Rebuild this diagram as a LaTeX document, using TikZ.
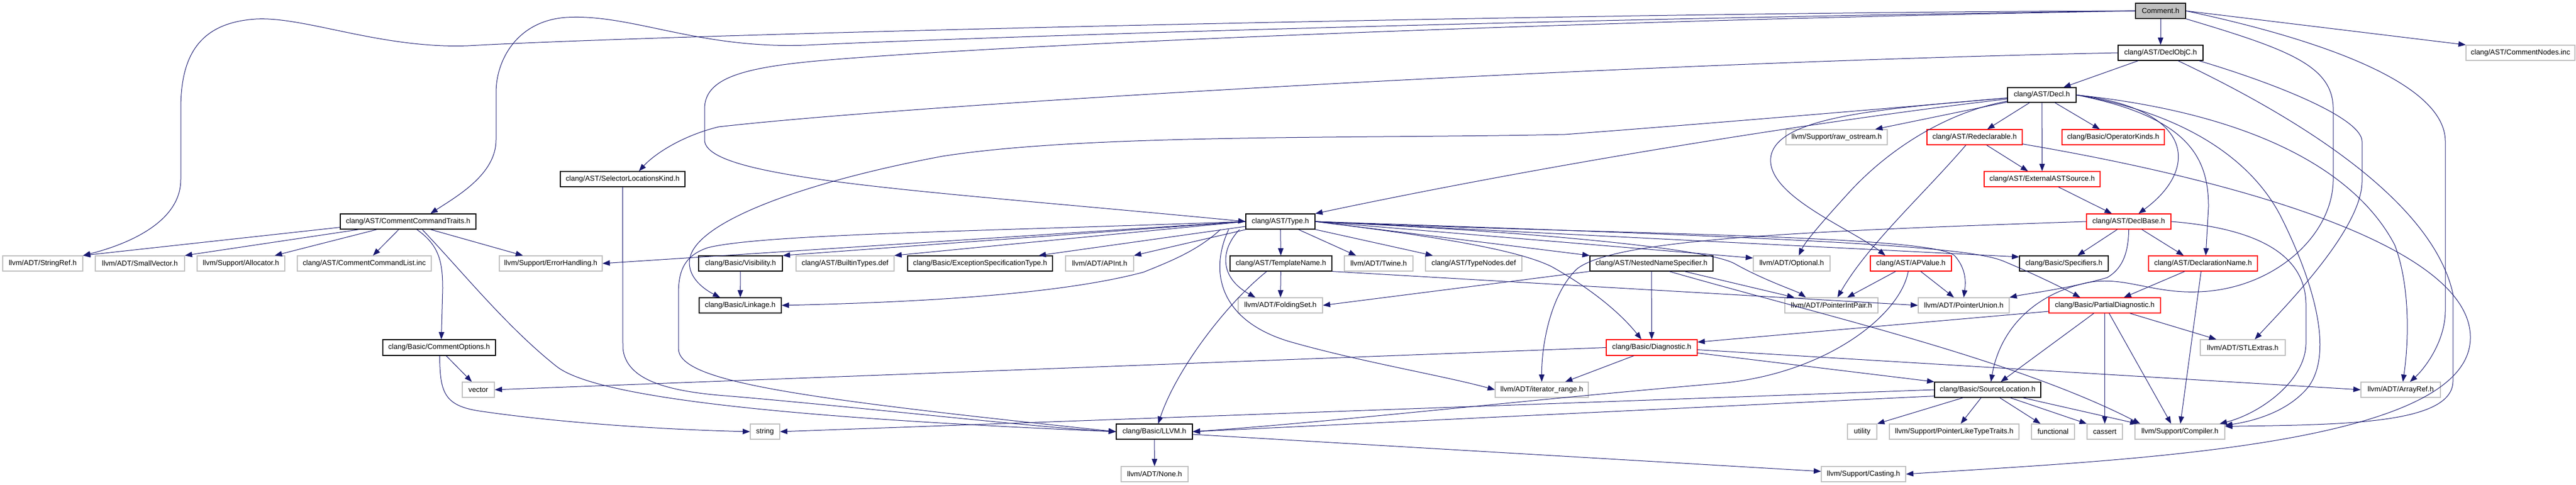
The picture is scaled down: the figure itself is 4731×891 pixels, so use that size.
\documentclass[tikz,border=0pt]{standalone}
\usepackage{fontspec}
\setmainfont{Liberation Sans}
\usetikzlibrary{arrows.meta,calc}
\definecolor{edgec}{HTML}{191970}
\definecolor{grayb}{HTML}{BFBFBF}
\tikzset{
 bx/.style={draw, rectangle, inner sep=0pt, line width=0.9pt, fill=white, font=\fontsize{10}{12}\selectfont, anchor=center},
 blk/.style={bx, draw=black},
 gry/.style={bx, draw=grayb},
 rd/.style={bx, draw=red},
 e/.style={draw=edgec, line width=0.75pt, -{Triangle[length=10pt,width=7.5pt]}},
}
\newcommand{\mynode}[7]{\node[#6, minimum width={(#4-#2)*0.75pt}, minimum height={(#5-#3)*0.75pt}] (#1) at ({(#2+#4)/2},{(#3+#5)/2}) {#7};}
\begin{document}
\begin{tikzpicture}[x=0.75pt,y=-0.75pt]
\useasboundingbox (0,0) rectangle (4731,891);
% nodes
\mynode{cmt}{3922}{6}{4014}{34}{blk,fill=grayb}{Comment.h}
\mynode{dobjc}{3890}{83}{4046}{111}{blk}{clang/AST/DeclObjC.h}
\mynode{cni}{4529}{83}{4729}{111}{gry}{clang/AST/CommentNodes.inc}
\mynode{decl}{3687}{161}{3813}{188}{blk}{clang/AST/Decl.h}
\mynode{raw}{3280}{238}{3466}{266}{gry}{llvm/Support/raw\_ostream.h}
\mynode{redecl}{3539}{238}{3714}{266}{rd}{clang/AST/Redeclarable.h}
\mynode{opk}{3787}{238}{3975}{266}{rd}{clang/Basic/OperatorKinds.h}
\mynode{eas}{3644}{315}{3857}{343}{rd}{clang/AST/ExternalASTSource.h}
\mynode{slk}{1029}{315}{1258}{343}{blk}{clang/AST/SelectorLocationsKind.h}
\mynode{cct}{625}{393}{874}{421}{blk}{clang/AST/CommentCommandTraits.h}
\mynode{type}{2288}{393}{2415}{421}{blk}{clang/AST/Type.h}
\mynode{dbase}{3832}{393}{3987}{421}{rd}{clang/AST/DeclBase.h}
\mynode{sref}{5}{470}{152}{498}{gry}{llvm/ADT/StringRef.h}
\mynode{svec}{175}{470}{339}{498}{gry}{llvm/ADT/SmallVector.h}
\mynode{alloc}{362}{470}{523}{498}{gry}{llvm/Support/Allocator.h}
\mynode{ccl}{546}{470}{792}{498}{gry}{clang/AST/CommentCommandList.inc}
\mynode{errh}{917}{470}{1106}{498}{gry}{llvm/Support/ErrorHandling.h}
\mynode{vis}{1283}{470}{1437}{498}{blk}{clang/Basic/Visibility.h}
\mynode{bti}{1462}{470}{1642}{498}{gry}{clang/AST/BuiltinTypes.def}
\mynode{est}{1667}{470}{1933}{498}{blk}{clang/Basic/ExceptionSpecificationType.h}
\mynode{apint}{1957}{470}{2082}{498}{gry}{llvm/ADT/APInt.h}
\mynode{tname}{2259}{470}{2446}{498}{blk}{clang/AST/TemplateName.h}
\mynode{twine}{2469}{470}{2595}{498}{gry}{llvm/ADT/Twine.h}
\mynode{tnodes}{2618}{470}{2795}{498}{gry}{clang/AST/TypeNodes.def}
\mynode{nns}{2920}{470}{3146}{498}{blk}{clang/AST/NestedNameSpecifier.h}
\mynode{opt}{3220}{470}{3361}{498}{gry}{llvm/ADT/Optional.h}
\mynode{apv}{3435}{470}{3584}{498}{rd}{clang/AST/APValue.h}
\mynode{spec}{3709}{470}{3872}{498}{blk}{clang/Basic/Specifiers.h}
\mynode{dname}{3946}{470}{4146}{498}{rd}{clang/AST/DeclarationName.h}
\mynode{link}{1284}{547}{1435}{575}{blk}{clang/Basic/Linkage.h}
\mynode{fset}{2274}{547}{2429}{575}{gry}{llvm/ADT/FoldingSet.h}
\mynode{pip}{3278}{547}{3449}{575}{gry}{llvm/ADT/PointerIntPair.h}
\mynode{pun}{3523}{547}{3690}{575}{gry}{llvm/ADT/PointerUnion.h}
\mynode{pdiag}{3763}{547}{3968}{575}{rd}{clang/Basic/PartialDiagnostic.h}
\mynode{copt}{703}{624}{910}{653}{blk}{clang/Basic/CommentOptions.h}
\mynode{diag}{2950}{624}{3117}{653}{rd}{clang/Basic/Diagnostic.h}
\mynode{stle}{4041}{624}{4197}{653}{gry}{llvm/ADT/STLExtras.h}
\mynode{vec}{849}{702}{908}{730}{gry}{vector}
\mynode{itr}{2746}{702}{2917}{730}{gry}{llvm/ADT/iterator\_range.h}
\mynode{sloc}{3553}{702}{3748}{730}{blk}{clang/Basic/SourceLocation.h}
\mynode{aref}{4336}{702}{4482}{730}{gry}{llvm/ADT/ArrayRef.h}
\mynode{str}{1378}{779}{1432}{807}{gry}{string}
\mynode{llvmh}{2050}{779}{2190}{807}{blk}{clang/Basic/LLVM.h}
\mynode{util}{3393}{779}{3447}{807}{gry}{utility}
\mynode{pltt}{3470}{779}{3708}{807}{gry}{llvm/Support/PointerLikeTypeTraits.h}
\mynode{func}{3731}{779}{3810}{807}{gry}{functional}
\mynode{cass}{3833}{779}{3898}{807}{gry}{cassert}
\mynode{comp}{3921}{779}{4086}{807}{gry}{llvm/Support/Compiler.h}
\mynode{none}{2059}{857}{2182}{885}{gry}{llvm/ADT/None.h}
\mynode{cast}{3345}{857}{3500}{885}{gry}{llvm/Support/Casting.h}
% ---- edges from Comment.h
\draw[e] (cmt) -- (dobjc);
\draw[e] (cmt.east) -- (cni.north west);
\draw[e] (cmt.south east) .. controls (4200,90) and (4285,120) .. (4285,200) -- (4285,330) .. controls (4285,430) and (4180,530) .. (4040,536) .. controls (3950,540) and (3900,505) .. (3830,520) .. controls (3720,545) and (3670,620) .. ($(sloc.north)+(6,0)$);
\draw[e] (cmt.east) .. controls (4250,70) and (4491,150) .. (4491,260) -- (4491,570) .. controls (4491,630) and (4450,680) .. ($(aref.north)+(17,0)$);
\draw[e] (cmt.west) .. controls (3000,22) and (1300,60) .. (860,84) .. controls (700,90) and (560,30) .. (470,35) .. controls (360,42) and (332,110) .. (332,200) -- (332,330) .. controls (332,410) and (230,450) .. (sref.north east);
\draw[e] (cmt.west) .. controls (2800,35) and (1750,70) .. (1480,83) .. controls (1280,90) and (1160,25) .. (1040,32) .. controls (950,38) and (911,110) .. (911,170) -- (911,257) .. controls (911,320) and (840,360) .. ($(cct.north)+(41,0)$);
\draw[e] (cmt.west) .. controls (2800,40) and (1800,85) .. (1500,112) .. controls (1360,125) and (1294,145) .. (1294,200) -- (1294,257) .. controls (1294,330) and (1700,350) .. (type.west);
% ---- DeclObjC.h
\draw[e] (dobjc) -- (decl);
\draw[e] (dobjc.west) .. controls (3000,115) and (1700,190) .. (1320,233) .. controls (1250,250) and (1200,285) .. ($(slk.north)+(30,0)$);
\draw[e] ($(dobjc.south east)+(-8,0)$) .. controls (4200,160) and (4338,220) .. (4338,260) -- (4338,333) .. controls (4338,420) and (4200,560) .. ($(stle.north)+(22,0)$);
\draw[e] ($(dobjc.south)+(32,0)$) .. controls (4250,230) and (4470,380) .. (4505,540) -- (4505,700) .. controls (4505,780) and (4300,780) .. ($(comp.north east)+(0,5)$);
% ---- Decl.h
\draw[e] (decl) -- (raw);
\draw[e] (decl) -- (redecl);
\draw[e] (decl) -- (eas);
\draw[e] (decl) -- (opk);
\draw[e] (decl) .. controls (3400,215) and (2900,290) .. (type.north east);
\draw[e] (decl) .. controls (3400,205) and (3100,230) .. (2874,247) .. controls (2500,255) and (2000,245) .. (1731,287) .. controls (1500,330) and (1290,400) .. (1268,470) .. controls (1258,505) and (1290,530) .. ($(link.north)+(-37,0)$);
\draw[e] (decl) .. controls (3450,200) and (3260,215) .. (3252,290) .. controls (3245,360) and (3400,420) .. ($(apv.north)+(-47,0)$);
\draw[e] (decl) .. controls (3580,205) and (3470,270) .. (3390,360) .. controls (3340,415) and (3315,445) .. ($(opt.north)+(13,0)$);
\draw[e] (decl.east) .. controls (4030,200) and (4040,310) .. ($(dbase.north)+(18,0)$);
\draw[e] (decl.east) .. controls (4020,215) and (4056,290) .. (4056,380) -- ($(dname.north)+(5,0)$);
\draw[e] (decl.east) .. controls (4150,210) and (4330,320) .. (4398,450) .. controls (4425,520) and (4425,620) .. ($(aref.north)+(4,0)$);
\draw[e] (decl.east) .. controls (4050,215) and (4150,320) .. (4190,400) .. controls (4240,500) and (4290,640) .. (4240,710) .. controls (4200,760) and (4130,775) .. ($(comp.north east)+(0,3)$);
% ---- Type.h
\draw[e] (type.west) -- (errh.east);
\draw[e] (type.west) -- (vis.north east);
\draw[e] (type.west) -- (bti.north east);
\draw[e] (type) -- ($(est.north east)+(-26,0)$);
\draw[e] (type) -- (apint.north east);
\draw[e] (type) -- (tname);
\draw[e] ($(type.south)+(-75,0)$) .. controls (2240,460) and (2240,510) .. ($(fset.north)+(-46,0)$);
\draw[e] ($(type.south)+(-95,0)$) .. controls (2220,500) and (2240,590) .. (2370,628) .. controls (2500,665) and (2650,690) .. (itr.west);
\draw[e] ($(type.south)+(33,0)$) -- ($(twine.north west)+(22,0)$);
\draw[e] (type.south east) -- ($(tnodes.north west)+(14,0)$);
\draw[e] (type.east) .. controls (2600,430) and (2780,455) .. (2850,490) .. controls (2930,535) and (2980,580) .. ($(diag.north)+(-19,0)$);
\draw[e] (type.east) -- (nns.north west);
\draw[e] (type.east) -- ($(opt.west)+(0,-10)$);
\draw[e] (type.east) .. controls (2800,425) and (3130,455) .. (3185,484) .. controls (3240,515) and (3300,535) .. ($(pip.north)+(-47,0)$);
\draw[e] (type.east) .. controls (2900,430) and (3550,430) .. (3590,470) .. controls (3612,495) and (3610,520) .. (pun.north);
\draw[e] (type.east) -- ($(spec.west)+(0,-12)$);
\draw[e] (type.east) .. controls (3400,440) and (3620,455) .. (3680,480) .. controls (3740,505) and (3790,530) .. ($(pdiag.north)+(-45,0)$);
\draw[e] (type.west) .. controls (1800,425) and (1400,430) .. (1300,455) .. controls (1255,470) and (1246,500) .. (1246,540) -- (1246,640) .. controls (1246,700) and (1450,730) .. (llvmh.west);
\draw[e] ($(type.south)+(-110,0)$) .. controls (2200,460) and (2150,480) .. (2100,500) .. controls (1950,540) and (1700,555) .. (link.east);
% ---- NestedNameSpecifier.h
\draw[e] (nns) -- (diag);
\draw[e] (nns.south west) -- (fset.east);
\draw[e] ($(nns.south east)+(-53,0)$) -- ($(pip.north west)+(18,0)$);
\draw[e] ($(nns.south east)+(-81,0)$) .. controls (3350,580) and (3700,660) .. ($(comp.north west)+(10,0)$);
% ---- TemplateName.h
\draw[e] (tname) -- (fset);
\draw[e] ($(tname.south)+(-26,0)$) .. controls (2250,560) and (2160,680) .. ($(llvmh.north)+(7,0)$);
\draw[e] (tname.south east) -- (pun.west);
% ---- APValue.h
\draw[e] ($(apv.south)+(-28,0)$) -- ($(pip.north east)+(-57,0)$);
\draw[e] ($(apv.south)+(18,0)$) -- ($(pun.north)+(-18,0)$);
\draw[e] ($(apv.south)+(-5,0)$) .. controls (3490,580) and (3350,690) .. (3150,705) .. controls (2800,735) and (2450,775) .. (llvmh.east);
% ---- SourceLocation.h
\draw[e] ($(sloc.south)+(-45,0)$) -- (util.north east);
\draw[e] ($(sloc.south)+(-12,0)$) -- ($(pltt.north)+(12,0)$);
\draw[e] ($(sloc.south)+(22,0)$) -- ($(func.north)+(-23,0)$);
\draw[e] ($(sloc.south)+(41,0)$) -- (cass.north west);
\draw[e] ($(sloc.south east)+(-34,0)$) -- ($(comp.north west)+(5,0)$);
\draw[e] ($(sloc.south west)+(0,-3)$) -- (llvmh.east);
\draw[e] (sloc.west) -- (str.east);
% ---- PartialDiagnostic.h
\draw[e] ($(pdiag.south)+(-20,0)$) -- ($(sloc.north)+(24,0)$);
\draw[e] (pdiag.south) -- (cass.north);
\draw[e] ($(pdiag.south)+(8,0)$) -- ($(comp.north west)+(67,0)$);
\draw[e] ($(pdiag.south east)+(-57,0)$) -- ($(stle.north west)+(30,0)$);
\draw[e] ($(pdiag.west)+(0,11)$) -- ($(diag.east)+(0,-10)$);
% ---- Diagnostic.h
\draw[e] ($(diag.east)+(0,10)$) -- (sloc.north west);
\draw[e] ($(diag.east)+(0,4)$) -- (aref.west);
\draw[e] ($(diag.south)+(-33,0)$) -- ($(itr.north east)+(-43,0)$);
\draw[e] (diag.west) -- (vec.east);
% ---- CommentOptions.h
\draw[e] ($(copt.south)+(13,0)$) -- ($(vec.north)+(-12,0)$);
\draw[e] ($(copt.south)+(1,0)$) .. controls (808,720) and (815,745) .. (880,755) .. controls (1050,780) and (1250,790) .. (str.west);
% ---- CommentCommandTraits.h
\draw[e] ($(cct.south west)+(0,-4)$) -- (sref.north east);
\draw[e] ($(cct.south west)+(35,0)$) -- (svec.north east);
\draw[e] ($(cct.south west)+(68,0)$) -- ($(alloc.north east)+(-19,0)$);
\draw[e] ($(cct.south west)+(108,0)$) -- ($(ccl.north)+(16,0)$);
\draw[e] ($(cct.south west)+(141,0)$) .. controls (806,450) and (813,480) .. (813,530) -- ($(copt.north)+(4,0)$);
\draw[e] ($(cct.south west)+(151,0)$) .. controls (850,500) and (930,600) .. (1022,673) .. controls (1100,735) and (1500,770) .. (llvmh.west);
\draw[e] ($(cct.south east)+(-84,0)$) -- ($(errh.north west)+(44,0)$);
% ---- SelectorLocationsKind.h
\draw[e] (slk.south) -- (1144,640) .. controls (1150,700) and (1230,720) .. (1344,728) .. controls (1600,750) and (1900,785) .. (llvmh.west);
% ---- Visibility.h
\draw[e] (vis) -- (link);
% ---- Redeclarable.h
\draw[e] ($(redecl.south)+(22,0)$) -- ($(eas.north)+(-26,0)$);
\draw[e] ($(redecl.south)+(-16,0)$) .. controls (3530,360) and (3430,450) .. ($(pip.north east)+(-75,0)$);
\draw[e] ($(redecl.south east)+(0,-2)$) .. controls (4100,330) and (4537,450) .. (4537,620) .. controls (4537,820) and (3900,845) .. (cast.east);
% ---- ExternalASTSource.h
\draw[e] ($(eas.south)+(30,0)$) -- ($(dbase.north)+(-31,0)$);
% ---- DeclBase.h
\draw[e] ($(dbase.south)+(-21,0)$) -- ($(spec.north east)+(-57,0)$);
\draw[e] (dbase.south) .. controls (3909,470) and (3895,495) .. (3870,510) .. controls (3800,530) and (3720,540) .. (pun.north east);
\draw[e] ($(dbase.south east)+(-54,0)$) -- ($(dname.north west)+(65,0)$);
\draw[e] (dbase.east) .. controls (4150,420) and (4235,470) .. (4235,560) -- (4235,630) .. controls (4235,700) and (4150,760) .. ($(comp.north east)+(-10,0)$);
\draw[e] (dbase.west) .. controls (3300,425) and (2960,440) .. (2895,495) .. controls (2845,545) and (2831,640) .. (itr.north);
% ---- DeclarationName.h
\draw[e] ($(dname.south west)+(67,0)$) -- ($(pdiag.north east)+(-68,0)$);
\draw[e] ($(dname.south west)+(97,0)$) -- ($(comp.north west)+(84,0)$);
% ---- LLVM.h
\draw[e] (llvmh) -- (none);
\draw[e] ($(llvmh.east)+(0,5)$) -- ($(cast.west)+(0,-5)$);
\end{tikzpicture}
\end{document}
